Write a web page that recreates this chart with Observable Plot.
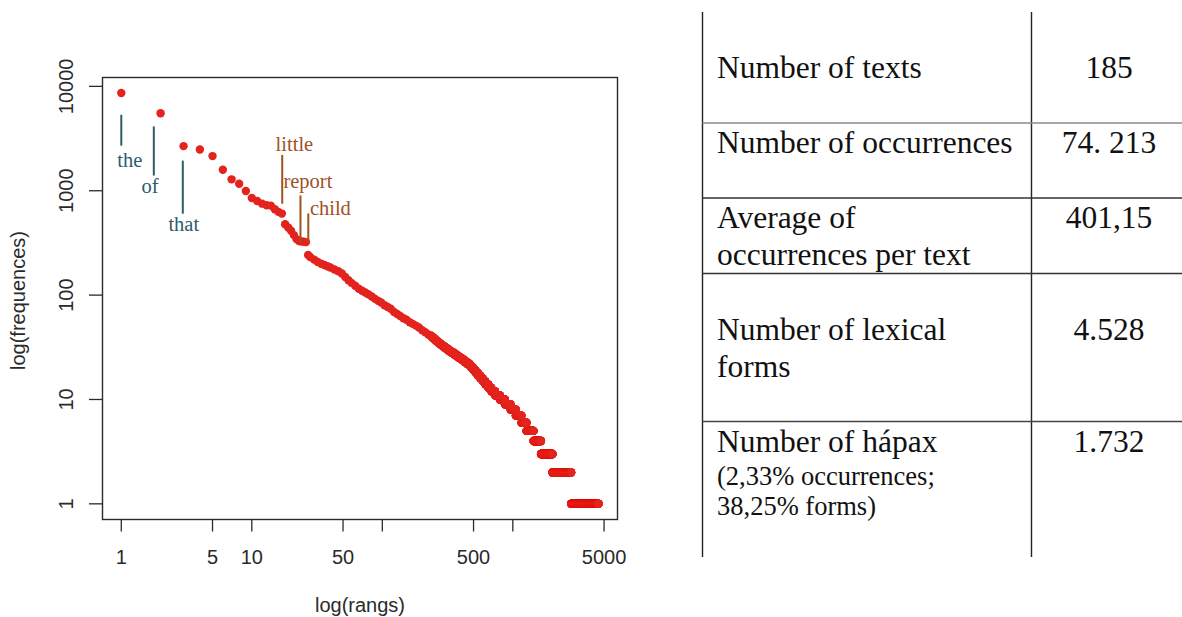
<!DOCTYPE html>
<html>
<head>
<meta charset="utf-8">
<script src="https://cdn.jsdelivr.net/npm/d3@7"></script>
<script src="https://cdn.jsdelivr.net/npm/@observablehq/plot@0.6"></script>
<style>
  html, body { margin: 0; padding: 0; background: #fff; }
  #wrap { position: relative; width: 1182px; height: 617px; overflow: hidden; background: #fff; }
  #chart { position: absolute; left: 0; top: 0; }
  #table { position: absolute; left: 0; top: 0; }
</style>
</head>
<body>
<div id="wrap"><div id="chart"></div><svg id="table" width="1182" height="617"></svg></div>
<script>
// ---------- DATA ----------
// Most frequent forms: rank and frequency
const topRanks = [1,2,3,4,5,6,7,8,9,10,11,12,13,14,15,16,17,18,19,20,21,22,23,24,25,26,27,28];
const topFreqs = [8630,5525,2675,2488,2148,1589,1286,1167,995,853,798,752,726,720,665,627,604,478,444,413,376,344,330,327,325,322,242,232];

// Mid-range forms (frequency > 40), read along the band
const midRanks = [30,32,34,36,38,40,43,46,49,52,55,58,62,66,70,74,78,83,88,93,98,104,110,116,123,130,137,145,153,162,171,181,191,202,213,225,236];
const midFreqs = [219,208,200,194,189,184,176,169,161,149,139,131,123,115,110,106,102,97,92,88,85,80,77,74,69,66,63,60,58,55,53,51,49,46,44,42,41];

// Frequency spectrum for low frequencies: frequency and number of forms with it
const spectrumFreq  = [1,2,3,4,5,6,7,8,9,10,11,12,13,14,15,16,17,18,19,20,21,22,23,24,25,26,27,28,29,30,31,32,33,34,35,36,37,38,39,40];
const spectrumWords = [1732,783,370,202,168,109,111,94,90,75,64,47,37,32,27,25,23,20,19,17,17,23,20,18,19,16,16,16,13,11,11,11,9,9,7,7,6,6,7,5];
const totalForms = 4528;

// Annotated words
const annWords       = ["the","of","that","little","report","child"];
const annGroup       = ["tool","tool","tool","content","content","content"];
const annLineRank    = [1, 1.775, 2.96, 17.1, 23.6, 27.1];
const annLineTop     = [5285, 4087, 1923, 2180, 891, 600];
const annLineBottom  = [2675, 1383, 596, 743, 319, 319];
const annLabelRank   = [1.16, 1.66, 3.01, 21.2, 26.9, 40];
const annLabelFreq   = [1954, 1103, 475, 2760, 1231, 684];

// Axes
const xTickValues = [1,5,10,50,100,500,1000,5000];
const xTickLabels = [1,5,10,50,500,5000];
const yTickValues = [1,10,100,1000,10000];
const xTitle = "log(rangs)";
const yTitle = "log(frequences)";

// Table
const tableLabels = [["Number of texts"],["Number of occurrences"],["Average of","occurrences per text"],["Number of lexical","forms"],["Number of hápax"]];
const tableValues = ["185","74. 213","401,15","4.528","1.732"];
const tableNotes  = ["(2,33% occurrences;","38,25% forms)"];

// ---------- BUILD ----------
const points = [];
topRanks.forEach((r,i) => points.push({rank: r, freq: topFreqs[i]}));
midRanks.forEach((r,i) => points.push({rank: r, freq: midFreqs[i]}));
let lastRank = totalForms;
spectrumFreq.forEach((f,i) => {
  const n = spectrumWords[i];
  for (let r = lastRank - n + 1; r <= lastRank; r++) points.push({rank: r, freq: f});
  lastRank -= n;
});

const ann = annWords.map((w,i) => ({
  word: w, group: annGroup[i], lx: annLineRank[i], ly1: annLineTop[i], ly2: annLineBottom[i],
  tx: annLabelRank[i], ty: annLabelFreq[i]
}));

const axisInk = "#2a2a2a";
const chart = Plot.plot({
  width: 680, height: 617,
  marginLeft: 102, marginRight: 63, marginTop: 77, marginBottom: 98,
  x: {type: "log", domain: [Math.pow(10,-0.144), Math.pow(10,3.802)]},
  y: {type: "log", domain: [Math.pow(10,-0.150), Math.pow(10,4.085)]},
  color: {domain: ["tool","content"], range: ["#2e5c6b","#a0521f"]},
  style: {fontFamily: "'Liberation Sans', Arial, sans-serif", fontSize: "20px", background: "#fff", color: axisInk},
  marks: [
    Plot.axisX({ticks: xTickValues, tickSize: 12.5, fill: "none", tickFormat: () => "", label: null, stroke: axisInk, strokeWidth: 1.3}),
    Plot.axisY({ticks: yTickValues, tickSize: 13, fill: "none", tickFormat: () => "", label: null, stroke: axisInk, strokeWidth: 1.3}),
    Plot.text(xTickLabels, {x: d => d, frameAnchor: "bottom", dy: 38, text: d => String(d), textAnchor: "middle", lineAnchor: "middle", fontSize: 20, fill: axisInk}),
    Plot.text(yTickValues, {y: d => d, frameAnchor: "left", dx: -36, rotate: -90, text: d => String(d), textAnchor: "middle", lineAnchor: "middle", fontSize: 20, fill: axisInk}),
    Plot.text([xTitle], {frameAnchor: "bottom", dy: 86, text: d => d, textAnchor: "middle", lineAnchor: "middle", fontSize: 20, fill: axisInk}),
    Plot.text([yTitle], {frameAnchor: "left", dx: -84, dy: 2, rotate: -90, text: d => d, textAnchor: "middle", lineAnchor: "middle", fontSize: 20, fill: axisInk}),
    Plot.frame({stroke: axisInk, strokeWidth: 1.4}),
    Plot.dot(points, {x: "rank", y: "freq", r: 4.2, fill: "#e3231d", stroke: "none"}),
    Plot.ruleX(ann, {x: "lx", y1: "ly1", y2: "ly2", stroke: "group", strokeWidth: 2}),
    Plot.text(ann, {x: "tx", y: "ty", text: "word", fill: "group", fontFamily: "'Liberation Serif', 'Times New Roman', serif", fontSize: 20.5, textAnchor: "middle", lineAnchor: "middle"})
  ]
});
document.getElementById("chart").appendChild(chart);

// ---------- TABLE ----------
const tsvg = d3.select("#table");
const serif = "'Liberation Serif', 'Times New Roman', serif";
const colL = 702.5, colM = 1031.5, colR = 1182, tableTop = 12, tableBottom = 557;
const rowLines = [123, 198, 273.5, 421.5];
const rowLineColor = ["#8a8a8a", "#333", "#333", "#444"];
tsvg.append("line").attr("x1", colL).attr("x2", colL).attr("y1", tableTop).attr("y2", tableBottom).attr("stroke", "#222").attr("stroke-width", 1.4);
tsvg.append("line").attr("x1", colM).attr("x2", colM).attr("y1", tableTop).attr("y2", tableBottom).attr("stroke", "#222").attr("stroke-width", 1.4);
rowLines.forEach((y,i) => tsvg.append("line").attr("x1", colL).attr("x2", colR).attr("y1", y).attr("y2", y).attr("stroke", rowLineColor[i]).attr("stroke-width", 1.6));
const baselines = [[78],[153.3],[228.3,265],[340,376.7],[451.7]];
tableLabels.forEach((lines,i) => {
  lines.forEach((t,j) => tsvg.append("text").attr("x", 717).attr("y", baselines[i][j]).attr("font-family", serif).attr("font-size", 31.5).attr("fill", "#111").text(t));
  tsvg.append("text").attr("x", 1109).attr("y", baselines[i][0]).attr("text-anchor", "middle").attr("font-family", serif).attr("font-size", 31.5).attr("fill", "#111").text(tableValues[i]);
});
const noteBase = [485, 515];
tableNotes.forEach((t,j) => tsvg.append("text").attr("x", 717).attr("y", noteBase[j]).attr("font-family", serif).attr("font-size", 26.5).attr("fill", "#111").text(t));
</script>
</body>
</html>
